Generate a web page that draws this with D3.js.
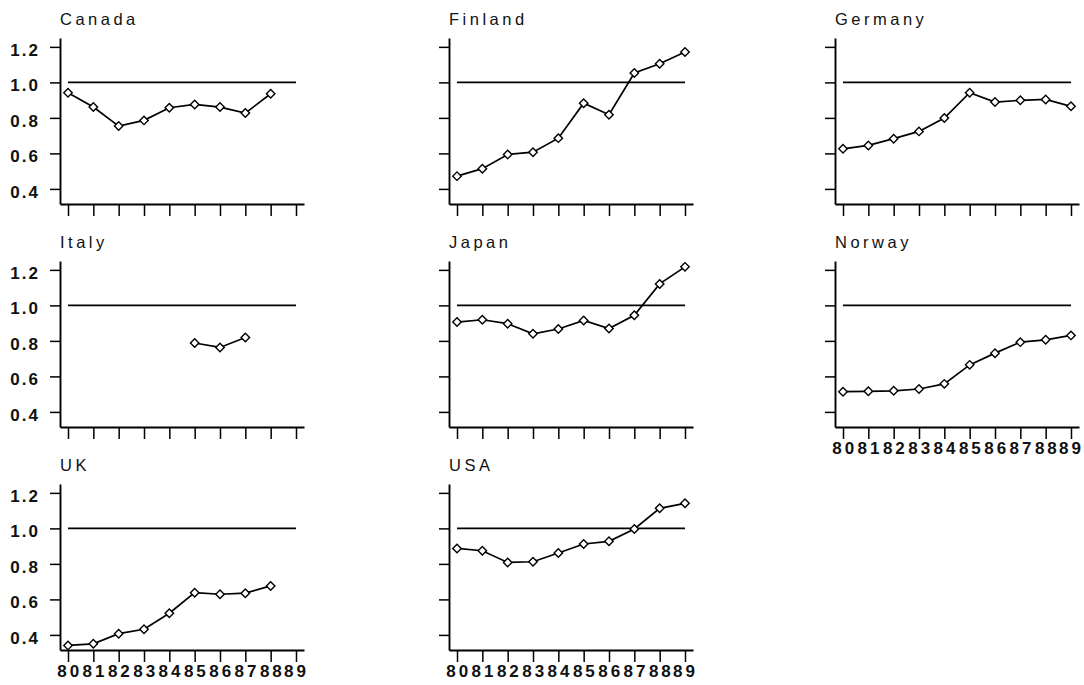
<!DOCTYPE html>
<html>
<head>
<meta charset="utf-8">
<script src="https://cdn.jsdelivr.net/npm/d3@7"></script>
<style>
  html, body { margin: 0; padding: 0; background: #fff; }
  svg { display: block; }
  text { font-family: "Liberation Sans", Arial, Helvetica, sans-serif; fill: #111; }
</style>
</head>
<body>
<svg id="chart" width="1084" height="685"></svg>
<script>
// ---- data ----
const years = ["80","81","82","83","84","85","86","87","88","89"];
const yTicks = [0.4, 0.6, 0.8, 1.0, 1.2];
const countries = ["Canada","Finland","Germany","Italy","Japan","Norway","UK","USA"];
const canada  = [0.942,0.861,0.754,0.786,0.857,0.876,0.861,0.827,0.936,null];
const finland = [0.472,0.514,0.594,0.607,0.686,0.883,0.818,1.053,1.105,1.171];
const germany = [0.626,0.645,0.683,0.724,0.799,0.942,0.889,0.899,0.904,0.865];
const italy   = [null,null,null,null,null,0.788,0.763,0.819,null,null];
const japan   = [0.906,0.919,0.897,0.840,0.867,0.915,0.870,0.944,1.121,1.217];
const norway  = [0.514,0.516,0.519,0.529,0.558,0.665,0.731,0.793,0.806,0.831];
const uk      = [0.341,0.350,0.407,0.432,0.522,0.638,0.629,0.635,0.676,null];
const usa     = [0.887,0.874,0.808,0.812,0.861,0.912,0.927,0.997,1.113,1.141];
const refValue = 1.0;

const seriesByCountry = [canada, finland, germany, italy, japan, norway, uk, usa];

// ---- layout ----
const colX = [60, 449, 835];
const rowBottom = [204, 427, 650];
const plotH = 166, plotW = 244;
const ncol = 3;
const FONT = "'Liberation Sans', Arial, Helvetica, sans-serif";

const svg = d3.select("#chart");

countries.forEach((name, i) => {
  const col = i % ncol, row = Math.floor(i / ncol);
  const x0 = colX[col], b = rowBottom[row];
  const vals = seriesByCountry[i];
  const data = years.map((yr, j) => ({yr, v: vals[j]}));

  const x = d3.scalePoint().domain(years).range([x0, x0 + plotW]).padding(0.316);
  const y = d3.scaleLinear().domain([0.315, 1.25]).range([b, b - plotH]);

  const g = svg.append("g");

  // title
  g.append("text")
    .attr("x", x0).attr("y", b - 179.5)
    .attr("font-size", 16.5)
    .attr("letter-spacing", 3.5)
    .style("font-family", FONT)
    .text(name);

  // y axis
  const showY = col === 0;
  const ya = g.append("g")
    .call(d3.axisLeft(y).tickValues(yTicks).tickSize(10).tickSizeOuter(0).tickPadding(10)
      .tickFormat(showY ? d3.format(".1f") : () => ""));
  ya.attr("transform", `translate(${x0},0)`);
  ya.select(".domain").attr("stroke", "#000").attr("stroke-width", 1.9);
  ya.selectAll(".tick line").attr("stroke", "#000").attr("stroke-width", 1.5);
  ya.selectAll(".tick text")
    .attr("font-size", 17).attr("font-weight", "bold")
    .attr("letter-spacing", 2).attr("dy", "0.48em")
    .attr("fill", "#111")
    .style("font-family", FONT);

  // x axis
  const showX = (row === 2) || (row === 1 && col === 2);
  const xa = g.append("g")
    .attr("transform", `translate(0,${b})`)
    .call(d3.axisBottom(x).tickSize(12).tickSizeOuter(0).tickPadding(2)
      .tickFormat(showX ? (d => d) : () => ""));
  xa.select(".domain").attr("stroke", "#000").attr("stroke-width", 1.9);
  xa.selectAll(".tick line").attr("stroke", "#000").attr("stroke-width", 1.5);
  xa.selectAll(".tick text")
    .attr("font-size", 17).attr("font-weight", "bold")
    .attr("letter-spacing", 3.0)
    .attr("dx", (d, k) => k === years.length - 1 ? 0 : 1.2)
    .attr("dy", "0.78em")
    .attr("fill", "#111")
    .style("font-family", FONT);

  // reference line at 1.0
  g.append("line")
    .attr("x1", x(years[0])).attr("x2", x(years[years.length - 1]))
    .attr("y1", y(refValue)).attr("y2", y(refValue))
    .attr("stroke", "#000").attr("stroke-width", 1.6);

  // data line
  const line = d3.line()
    .defined(d => d.v != null)
    .x(d => x(d.yr)).y(d => y(d.v));
  g.append("path")
    .datum(data)
    .attr("d", line)
    .attr("fill", "none").attr("stroke", "#000").attr("stroke-width", 1.7);

  // markers
  const sym = d3.symbol().type(d3.symbolSquare).size(36);
  g.selectAll("path.mk")
    .data(data.filter(d => d.v != null))
    .join("path")
    .attr("class", "mk")
    .attr("d", sym)
    .attr("transform", d => `translate(${x(d.yr)},${y(d.v)}) rotate(45)`)
    .attr("fill", "#fff").attr("stroke", "#000").attr("stroke-width", 1.4);
});
</script>
</body>
</html>
